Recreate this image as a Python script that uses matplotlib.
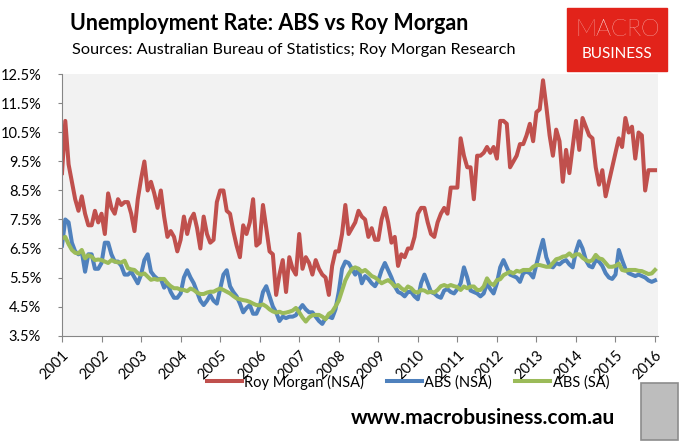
import matplotlib.pyplot as plt
import numpy as np
from matplotlib.patches import Rectangle

# monthly readings, Jan 2001 .. Jan 2016
roy_morgan = [
    9.1, 10.9, 9.4, 8.8, 8.2, 7.8, 8.3, 7.7, 7.3, 7.3, 7.8, 7.4,
    7.7, 7.0, 8.4, 7.9, 7.7, 8.2, 8.0, 8.1, 8.1, 7.7, 7.1, 8.2,
    8.9, 9.5, 8.5, 8.8, 8.4, 7.9, 8.5, 7.6, 6.9, 7.1, 6.9, 6.4,
    6.8, 7.6, 7.0, 7.5, 7.7, 7.2, 6.5, 7.6, 7.0, 6.7, 6.8, 8.1,
    8.5, 8.5, 7.8, 7.7, 7.1, 6.6, 6.2, 7.3, 7.0, 7.4, 8.2, 6.6,
    6.7, 8.0, 7.2, 6.4, 6.3, 4.9, 5.6, 6.1, 5.0, 6.2, 5.8, 5.6,
    7.0, 5.8, 6.2, 6.0, 5.6, 6.1, 5.8, 5.6, 5.5, 4.9, 5.9, 6.4,
    6.4, 7.0, 8.0, 7.0, 7.2, 7.4, 7.8, 7.6, 7.5, 6.9, 7.2, 6.8,
    6.8, 7.5, 7.9, 7.4, 6.7, 6.9, 5.9, 6.3, 6.2, 6.5, 6.5, 6.9,
    7.7, 7.9, 7.9, 7.4, 7.0, 6.9, 7.4, 7.7, 7.9, 7.7, 8.6, 8.6,
    8.6, 10.3, 9.7, 9.3, 9.3, 8.2, 9.7, 9.7, 9.8, 10.0, 9.8, 10.0,
    9.6, 10.9, 10.9, 10.8, 9.3, 9.5, 9.7, 10.1, 10.1, 10.4, 10.8, 10.2,
    11.2, 11.3, 12.3, 11.4, 10.4, 9.7, 10.6, 10.2, 8.8, 9.9, 9.1, 10.0,
    10.9, 9.9, 11.0, 10.7, 10.4, 10.3, 9.3, 8.7, 9.2, 8.3, 8.8, 9.3,
    9.8, 10.3, 10.0, 11.0, 10.5, 10.7, 9.6, 10.5, 10.4, 8.5, 9.2, 9.2,
    9.2,
]
abs_nsa = [
    6.6, 7.5, 7.4, 6.7, 6.4, 6.3, 6.4, 5.7, 6.3, 6.3, 5.8, 5.8,
    6.0, 6.7, 6.7, 6.3, 6.05, 6.05, 5.9, 5.6, 5.6, 5.7, 5.5, 5.3,
    5.6, 6.1, 6.3, 5.7, 5.55, 5.45, 5.45, 5.15, 5.3, 5.0, 4.8, 4.8,
    4.95, 5.5, 5.75, 5.5, 5.3, 5.0, 4.7, 4.55, 4.7, 4.9, 4.7, 4.6,
    5.1, 5.6, 5.75, 5.2, 5.0, 4.85, 4.6, 4.3, 4.45, 4.55, 4.25, 4.25,
    4.5, 5.0, 5.2, 4.85, 4.5, 4.3, 4.0, 4.15, 4.1, 4.15, 4.15, 4.2,
    4.4, 4.55, 4.4, 4.3, 4.3, 4.15, 4.0, 3.9, 4.1, 4.15, 4.1, 4.4,
    5.0, 5.8, 6.05, 6.0, 5.8, 5.6, 5.8, 5.3, 5.55, 5.45, 5.3, 5.2,
    5.4, 5.75, 6.0, 5.75, 5.5, 5.2, 5.0, 4.95, 4.85, 5.0, 5.0, 4.85,
    4.75, 5.3, 5.6, 5.3, 5.0, 4.95, 4.85, 4.8, 5.05, 5.1, 5.0, 4.95,
    5.1, 5.3, 5.85, 5.5, 5.05, 5.0, 4.95, 4.85, 4.95, 5.3, 5.1, 4.95,
    5.3, 5.85, 6.1, 5.85, 5.6, 5.55, 5.5, 5.35, 5.65, 5.7, 5.65, 5.5,
    5.95, 6.4, 6.8, 6.2, 5.9, 5.85, 6.0, 5.95, 6.05, 6.1, 5.95, 5.85,
    6.4, 6.75, 6.5, 6.1, 5.9, 5.85, 6.1, 6.05, 5.9, 5.65, 5.5, 5.45,
    5.6, 6.45, 6.1, 5.8, 5.65, 5.6, 5.55, 5.6, 5.55, 5.5, 5.4, 5.35,
    5.4,
]
abs_sa = [
    6.85, 6.9, 6.65, 6.45, 6.35, 6.33, 6.45, 6.16, 6.27, 6.22, 6.1, 6.12,
    6.1, 6.05, 6.0, 6.1, 6.05, 6.02, 6.02, 6.08, 5.82, 5.78, 5.76, 5.65,
    5.6, 5.64, 5.53, 5.42, 5.45, 5.42, 5.45, 5.45, 5.3, 5.2, 5.13, 5.13,
    5.08, 5.07, 5.03, 5.12, 5.07, 4.98, 4.93, 4.93, 4.98, 5.01, 5.01, 5.07,
    5.12, 5.07, 5.01, 4.95, 4.86, 4.78, 4.75, 4.72, 4.7, 4.66, 4.6, 4.55,
    4.54, 4.57, 4.5, 4.4, 4.33, 4.29, 4.32, 4.27, 4.29, 4.32, 4.36, 4.45,
    4.3, 4.12, 3.98, 4.12, 4.2, 4.21, 4.21, 4.15, 4.06, 4.25, 4.32, 4.5,
    4.7, 5.05, 5.4, 5.62, 5.8, 5.85, 5.8, 5.7, 5.76, 5.66, 5.55, 5.5,
    5.41, 5.3, 5.36, 5.41, 5.32, 5.19, 5.24, 5.13, 5.05, 5.19, 5.13, 5.01,
    4.98, 5.07, 5.05, 4.98, 5.01, 4.98, 5.07, 5.2, 5.24, 5.19, 5.24, 5.2,
    5.17, 5.07, 5.19, 5.13, 5.19, 5.19, 5.07, 5.07, 5.19, 5.47, 5.3, 5.24,
    5.41, 5.44, 5.58, 5.64, 5.7, 5.64, 5.73, 5.7, 5.76, 5.76, 5.76, 5.87,
    5.93, 5.93, 5.9, 5.87, 5.87, 6.0, 6.13, 6.16, 6.22, 6.24, 6.33, 6.22,
    6.3, 6.3, 6.18, 6.1, 6.05, 6.1, 6.28, 6.16, 6.13, 6.0, 5.87, 5.87,
    5.9, 5.98, 5.76, 5.73, 5.76, 5.76, 5.76, 5.73, 5.72, 5.67, 5.62, 5.64,
    5.76,
]
start_year = 2001
years = list(range(2001, 2017))
y_ticks = [3.5, 4.5, 5.5, 6.5, 7.5, 8.5, 9.5, 10.5, 11.5, 12.5]

plt.rcParams['font.family'] = ['Lato', 'DejaVu Sans']

W, H = 683, 444
fig = plt.figure(figsize=(W / 100, H / 100), dpi=100)
ax = fig.add_axes([62 / W, 1 - 335.5 / H, 596 / W, 261 / H])
ax.set_facecolor('#f2f2f2')

t = start_year + np.arange(len(roy_morgan)) / 12
ax.plot(t, roy_morgan, color='#c0504d', lw=2.9, label='Roy Morgan (NSA)')
ax.plot(t, abs_nsa, color='#4f81bd', lw=2.9, label='ABS (NSA)')
ax.plot(t, abs_sa, color='#9bbb59', lw=2.9, label='ABS (SA)')

ax.set_xlim(2001, 2001 + 180.9 / 12)
ax.set_ylim(3.5, 12.5)
ax.set_yticks(y_ticks)
ax.set_yticklabels(['%.1f%%' % v for v in y_ticks])
ax.set_xticks(years)
ax.set_xticklabels([str(y) for y in years], rotation=45, ha='right',
                   rotation_mode='anchor')
for s in ['top', 'right']:
    ax.spines[s].set_visible(False)
for s in ['left', 'bottom']:
    ax.spines[s].set_color('#868686')
ax.tick_params(axis='y', length=3, pad=12, color='#868686', labelsize=10.5)
ax.tick_params(axis='x', length=4, pad=5, color='#868686', labelsize=10.5)

fig.legend(loc='center', bbox_to_anchor=(408 / W, 1 - 382 / H), ncol=3,
           frameon=False, fontsize=10.5, handlelength=2.4, handletextpad=0.15,
           columnspacing=1.6)

fig.text(70 / W, 1 - 23 / H, 'Unemployment Rate: ABS vs Roy Morgan',
         fontsize=15.5, fontweight='bold', va='center')
fig.text(72 / W, 1 - 50 / H,
         'Sources: Australian Bureau of Statistics; Roy Morgan Research',
         fontsize=11.7, va='center')
fig.text(615 / W, 1 - 418 / H, 'www.macrobusiness.com.au', fontsize=15,
         fontweight='bold', ha='right', va='center')

# MACRO BUSINESS badge
fig.patches.append(Rectangle((567 / W, 1 - 71 / H), 100 / W, 63 / H,
                             transform=fig.transFigure, color='#e2231a'))
fig.text(617 / W, 1 - 29 / H, 'MACRO', color='white', fontsize=17,
         fontweight='light', ha='center', va='center')
fig.text(617 / W, 1 - 54 / H, 'BUSINESS', color='white', fontsize=11,
         ha='center', va='center')

# wolf badge
fig.patches.append(Rectangle((641 / W, 1 - 440 / H), 37 / W, 57 / H,
                             transform=fig.transFigure, facecolor='#bdbdbd',
                             edgecolor='#8c8c8c', lw=1.2))

fig.savefig('out.png', dpi=100)
